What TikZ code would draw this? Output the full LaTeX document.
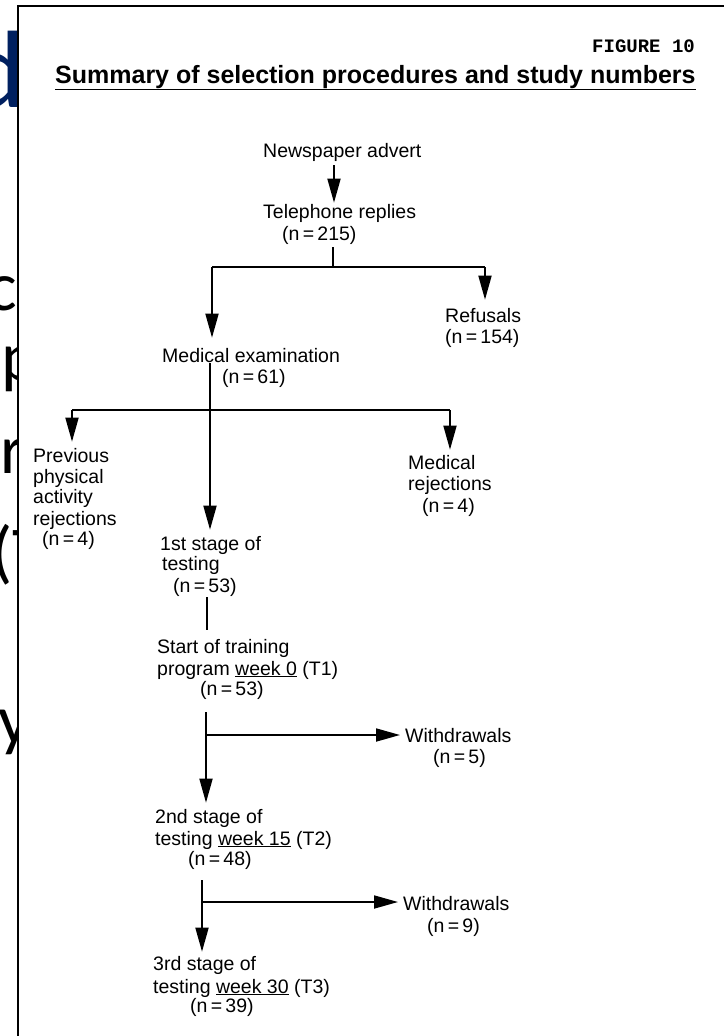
\documentclass[tikz,border=0pt]{standalone}
\usepackage{fontspec}
\setmainfont{Liberation Sans}
\newfontfamily\slidefont{Carlito}
\newfontfamily\figfont{Liberation Mono}
\usetikzlibrary{arrows.meta}
\definecolor{slideblue}{RGB}{0,32,96}
\begin{document}
\begin{tikzpicture}[x=1pt,y=-1pt,
  lbl/.style={inner sep=0pt, anchor=base west, font=\fontsize{19.5}{21.5}\selectfont},
  ln/.style={line width=1.8pt},
  arr/.style={line width=1.8pt, -{Triangle[length=24pt,width=13pt]}},
  bg/.style={inner sep=0pt, font=\slidefont\fontsize{70}{84}\selectfont}]
\useasboundingbox (0,0) rectangle (723,1036);
% fragments of the slide behind the scan
\node[bg, text=slideblue, font=\slidefont\fontsize{110}{130}\selectfont, anchor=base east] (bgd) at (25,107) {d};
\node[bg, anchor=base east] (bgc) at (17,310) {c};
\node[bg, anchor=base west] (bgp) at (1.5,380) {p};
\node[bg, anchor=base west] (bgr) at (0,473) {r};
\node[bg, anchor=base west] (bgt) at (-9,575) {(T};
\node[bg, anchor=base west] (bgy) at (-2,743) {y};
% scanned page
\draw[line width=1.5pt, fill=white] (18,6) rectangle (745,1050);
\node[lbl, font=\figfont\bfseries\fontsize{19}{22}\selectfont] (fig) at (592,52) {FIGURE 10};
\node[lbl, font=\bfseries\fontsize{25}{30}\selectfont] (title) at (55,83) {\underline{Summary of selection procedures and study numbers}};
% texts
\node[lbl] (news) at (263,157) {Newspaper advert};
\node[lbl] (tel) at (263,218) {Telephone replies};
\node[lbl] (teln) at (282,240) {(n\,=\,215)};
\node[lbl] (ref) at (445,322) {Refusals};
\node[lbl] (refn) at (445,343) {(n\,=\,154)};
\node[lbl] (med) at (162,362) {Medical examination};
\node[lbl] (medn) at (222,383) {(n\,=\,61)};
\node[lbl] (prev1) at (33,462) {Previous};
\node[lbl] (prev2) at (33,483) {physical};
\node[lbl] (prev3) at (33,503) {activity};
\node[lbl] (prev4) at (33,525) {rejections};
\node[lbl] (prevn) at (42,545) {(n\,=\,4)};
\node[lbl] (mrej1) at (408,469) {Medical};
\node[lbl] (mrej2) at (408,490) {rejections};
\node[lbl] (mrejn) at (422,512) {(n\,=\,4)};
\node[lbl] (sa1) at (160,550) {1st stage of};
\node[lbl] (sa2) at (162,570) {testing};
\node[lbl] (san) at (173,592) {(n\,=\,53)};
\node[lbl] (tr1) at (157,653) {Start of training};
\node[lbl] (tr2) at (157,675) {program \underline{week 0} (T1)};
\node[lbl] (trn) at (200,695) {(n\,=\,53)};
\node[lbl] (wa) at (405,742) {Withdrawals};
\node[lbl] (wan) at (433,763) {(n\,=\,5)};
\node[lbl] (sb1) at (155,823) {2nd stage of};
\node[lbl] (sb2) at (155,845) {testing \underline{week 15} (T2)};
\node[lbl] (sbn) at (188,865) {(n\,=\,48)};
\node[lbl] (wb) at (403,910) {Withdrawals};
\node[lbl] (wbn) at (427,932) {(n\,=\,9)};
\node[lbl] (sc1) at (153,970) {3rd stage of};
\node[lbl] (sc2) at (153,993) {testing \underline{week 30} (T3)};
\node[lbl] (scn) at (190,1012) {(n\,=\,39)};
% junctions
\coordinate (jT) at (333,267);
\coordinate (jTL) at (212,267);
\coordinate (jTR) at (485,267);
\coordinate (jML) at (72,410);
\coordinate (jMR) at (450,410);
\coordinate (jW1) at (206,735);
\coordinate (jW2) at (202,902);
% connectors
\draw[arr, shorten <=4pt, shorten >=1pt] (news.south -| 334,0) -- (tel.north -| 334,0);
\draw[ln, shorten <=3pt] (teln.south -| jT) -- (jT);
\draw[ln] (jTL) -- (jTR);
\draw[arr, shorten >=10pt] (jTL) -- (jTL |- med.north);
\draw[arr, shorten >=8pt] (jTR) -- (jTR |- ref.north);
\draw[arr, shorten <=1pt, shorten >=6pt] (med.south -| 210,0) -- (sa1.north -| 210,0);
\draw[ln] (jML) -- (jMR);
\draw[arr, shorten >=6pt] (jML) -- (jML |- prev1.north);
\draw[arr, shorten >=5pt] (jMR) -- (jMR |- mrej1.north);
\draw[ln, shorten <=1pt, shorten >=9pt] (san.south -| 207,0) -- (tr1.north -| 207,0);
\draw[arr, shorten <=13pt, shorten >=6pt] (trn.south -| jW1) -- (sb1.north -| jW1);
\draw[arr, shorten >=5pt] (jW1) -- (jW1 -| wa.west);
\draw[arr, shorten <=11pt, shorten >=4pt] (sbn.south -| jW2) -- (sc1.north -| jW2);
\draw[arr, shorten >=5pt] (jW2) -- (jW2 -| wb.west);
\end{tikzpicture}
\end{document}
